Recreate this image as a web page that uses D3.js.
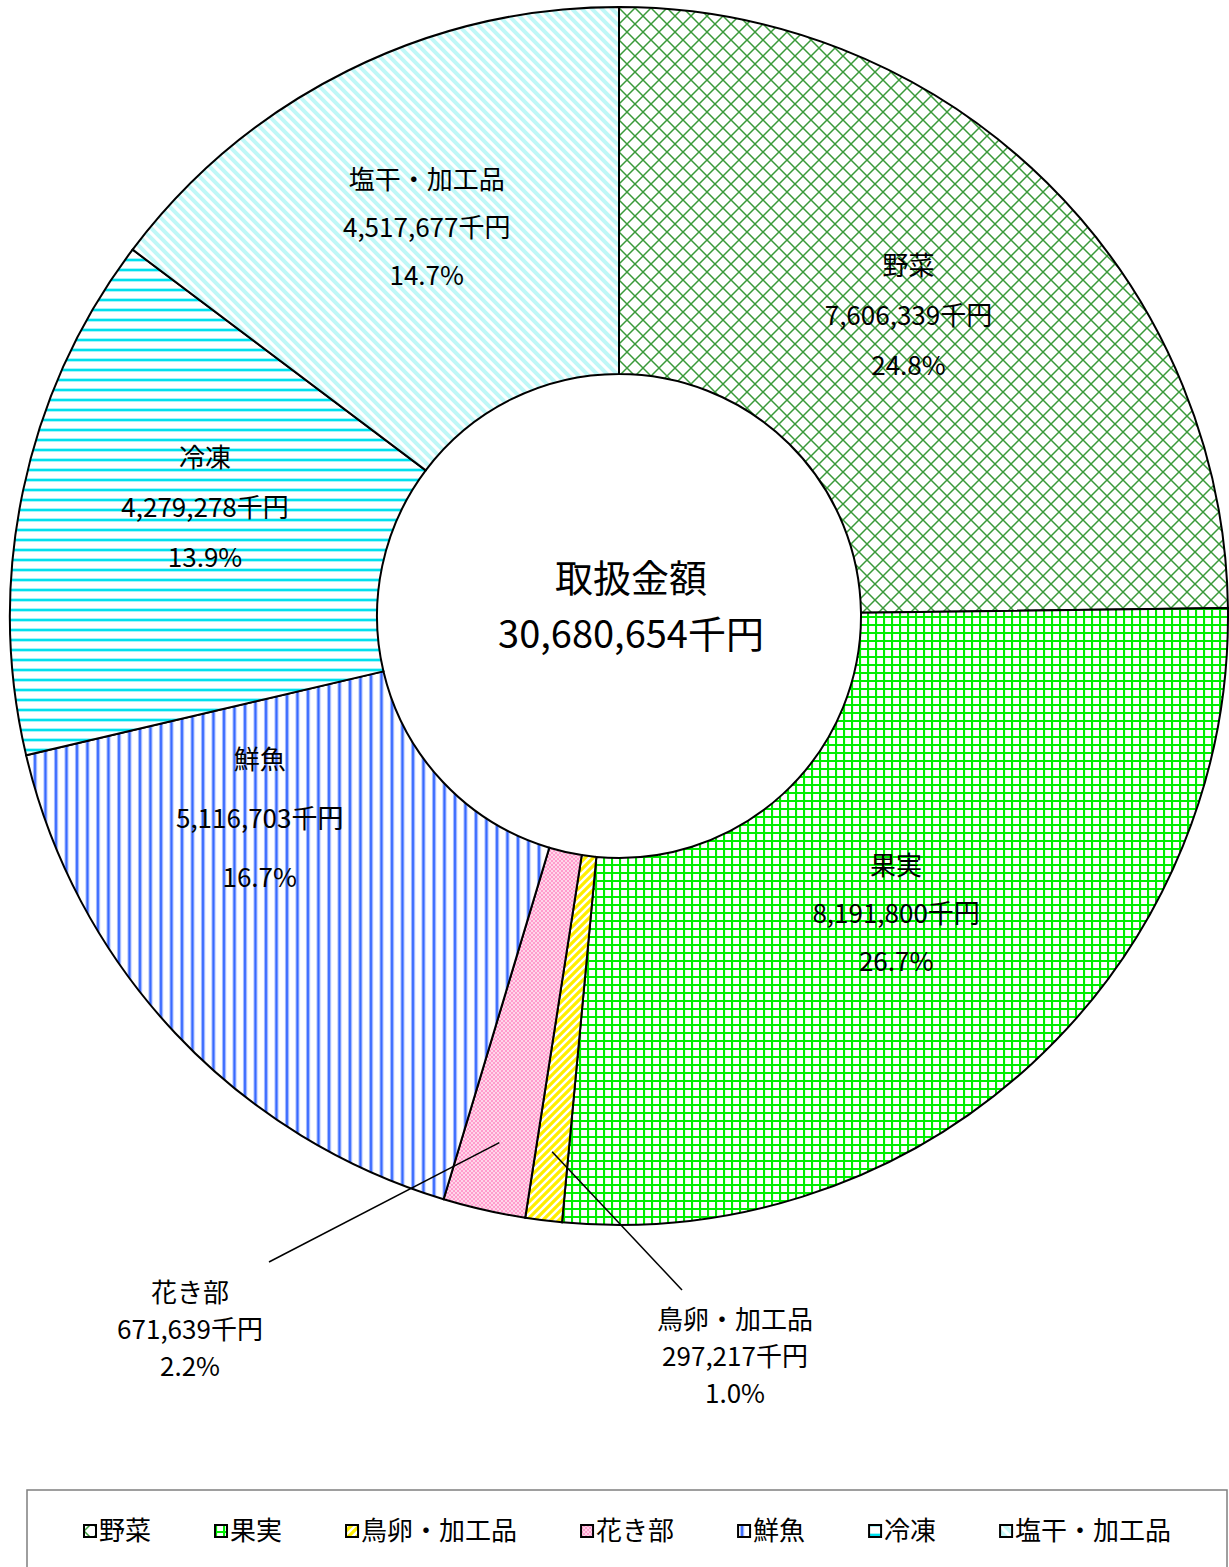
<html>
<head>
<meta charset="utf-8">
<style>
  body { margin: 0; background: #fff; }
  text { font-family: "Noto Sans CJK JP", "Liberation Sans", sans-serif; fill: #000; }
</style>
</head>
<body>
<svg id="chart"></svg>
<script src="https://cdn.jsdelivr.net/npm/d3@7"></script>
<script>
// data (千円)
const categories = ["野菜", "果実", "鳥卵・加工品", "花き部", "鮮魚", "冷凍", "塩干・加工品"]
const values = [7606339, 8191800, 297217, 671639, 5116703, 4279278, 4517677]
const percents = ["24.8%", "26.7%", "1.0%", "2.2%", "16.7%", "13.9%", "14.7%"]
const totalLabel = "取扱金額"
const totalValue = 30680654

const width = 1229, height = 1567
const cx = 619, cy = 616
const outerR = 609, innerR = 242
const fmt = d3.format(",")

const svg = d3.select("#chart").attr("width", width).attr("height", height)
const defs = svg.append("defs")

// fill patterns, one per category
function pat(id, w, h, draw) {
    let p = defs.append("pattern").attr("id", id)
        .attr("patternUnits", "userSpaceOnUse")
        .attr("width", w).attr("height", h)
    p.append("rect").attr("width", w).attr("height", h).attr("fill", "#fff")
    draw(p)
}
pat("p0", 16, 16, p => {
    p.append("path").attr("d", "M0,0L16,16M16,0L0,16M-8,8L0,0M8,-8L-8,8M8,24L24,8M16,16L8,24")
        .attr("stroke", "#3a9a3a").attr("stroke-width", 1.5).attr("fill", "none")
})
pat("p1", 8, 8, p => {
    p.append("path").attr("d", "M1,0V8M0,1H8").attr("stroke", "#00ee00").attr("stroke-width", 2.2)
})
pat("p2", 8, 8, p => {
    p.append("path").attr("d", "M-2,10L10,-2M-6,6L6,-6M2,14L14,2")
        .attr("stroke", "#ffee00").attr("stroke-width", 3.2)
})
pat("p3", 4, 4, p => {
    p.select("rect").attr("fill", "#ffd6ea")
    p.append("rect").attr("width", 2).attr("height", 2).attr("fill", "#ff9ccc")
    p.append("rect").attr("x", 2).attr("y", 2).attr("width", 2).attr("height", 2).attr("fill", "#ff9ccc")
})
pat("p4", 10.5, 10, p => {
    p.append("rect").attr("x", 2).attr("width", 4).attr("height", 10).attr("fill", "#a8beff")
    p.append("rect").attr("x", 3).attr("width", 2).attr("height", 10).attr("fill", "#3366ff")
})
pat("p5", 10, 10, p => {
    p.append("rect").attr("y", 2).attr("width", 10).attr("height", 4).attr("fill", "#a8f4f8")
    p.append("rect").attr("y", 3).attr("width", 10).attr("height", 2).attr("fill", "#00e0ee")
})
pat("p6", 10, 10, p => {
    p.append("path").attr("d", "M-2,-2L12,12M-7,3L7,17M3,-7L17,7")
        .attr("stroke", "#bff7f7").attr("stroke-width", 4)
})

const pie = d3.pie().sort(null).value(d => d)
const arcs = pie(values)
const arc = d3.arc().innerRadius(innerR).outerRadius(outerR)

const g = svg.append("g").attr("transform", `translate(${cx},${cy})`)

g.selectAll("path.slice")
    .data(arcs)
    .enter().append("path")
    .attr("class", "slice")
    .attr("d", arc)
    .attr("fill", (d, i) => `url(#p${i})`)
    .attr("stroke", "#000")
    .attr("stroke-width", 2)

// labels inside slices: placed at the centroid ring, nudged like the original
const labelR = 422
const angleShift = [0, 0, 0, 0, 0.24, 0, 0]
const nudge = [[-7, 0], [-9, -12], [0, 0], [0, 0], [8, -5], [-1, -21], [-4, -10]]
const lineGap = [50, 48, 0, 0, 59, 50, 48]
const inside = [0, 1, 4, 5, 6]
inside.forEach(i => {
    let a = (arcs[i].startAngle + arcs[i].endAngle) / 2 + angleShift[i]
    let x = labelR * Math.sin(a) + nudge[i][0], y = -labelR * Math.cos(a) + nudge[i][1]
    let t = g.append("text").attr("text-anchor", "middle").attr("font-size", 26)
    let lines = [categories[i], fmt(values[i]) + "千円", percents[i]]
    lines.forEach((s, k) => {
        t.append("tspan").attr("x", x).attr("y", y + (k - 1) * lineGap[i] + 9).text(s)
    })
})

// outside labels with leader lines
const outside = [
    { i: 3, lineEnd: [-350, 646], text: [-429, 686] },
    { i: 2, lineEnd: [63, 674], text: [116, 713] }
]
outside.forEach(o => {
    let a = (arcs[o.i].startAngle + arcs[o.i].endAngle) / 2
    let r = 540
    g.append("line")
        .attr("x1", r * Math.sin(a)).attr("y1", -r * Math.cos(a))
        .attr("x2", o.lineEnd[0]).attr("y2", o.lineEnd[1])
        .attr("stroke", "#000").attr("stroke-width", 1.5)
    let t = g.append("text").attr("text-anchor", "middle").attr("font-size", 26)
    let lines = [categories[o.i], fmt(values[o.i]) + "千円", percents[o.i]]
    lines.forEach((s, k) => {
        t.append("tspan").attr("x", o.text[0]).attr("y", o.text[1] + k * 37).text(s)
    })
})

// center
g.append("text").attr("text-anchor", "middle").attr("font-size", 38)
    .attr("x", 12).attr("y", -24).text(totalLabel)
g.append("text").attr("text-anchor", "middle").attr("font-size", 38)
    .attr("x", 12).attr("y", 32).text(fmt(totalValue) + "千円")

// legend
const legend = svg.append("g")
legend.append("rect").attr("x", 27).attr("y", 1490).attr("width", 1200).attr("height", 100)
    .attr("fill", "#fff").attr("stroke", "#7f7f7f").attr("stroke-width", 1.5)
let lx = 84
categories.forEach((c, i) => {
    let item = legend.append("g").attr("transform", `translate(${lx},1531)`)
    item.append("rect").attr("x", 0).attr("y", -6).attr("width", 12).attr("height", 12)
        .attr("fill", `url(#p${i})`).attr("stroke", "#000").attr("stroke-width", 2)
    let t = item.append("text").attr("x", 15).attr("y", 9).attr("font-size", 26).text(c)
    lx += 15 + t.node().getComputedTextLength() + 64
})
</script>
</body>
</html>
